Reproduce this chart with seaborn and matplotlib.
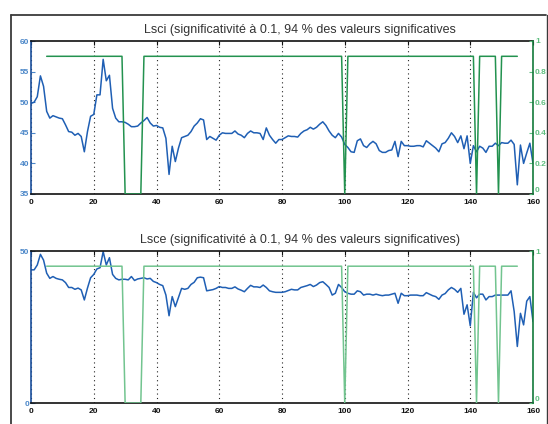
import numpy as np
import pandas as pd
import matplotlib
matplotlib.use("Agg")
import matplotlib.pyplot as plt
from matplotlib.lines import Line2D
import seaborn as sns

# ---------------- data ----------------
x_blue = list(range(0, 161))
lsci = [49.8, 50.0, 50.9, 54.3, 52.6, 48.5, 47.4, 47.8, 47.6, 47.4,
        47.3, 46.3, 45.2, 45.1, 44.6, 44.9, 44.4, 41.9, 45.2, 47.7,
        48.0, 51.2, 51.2, 57.0, 53.5, 54.4, 49.0, 47.4, 46.8, 46.8,
        46.7, 46.4, 46.0, 46.0, 46.1, 46.6, 47.0, 47.5, 46.6, 46.1,
        46.2, 45.9, 45.8, 44.1, 38.2, 42.8, 40.3, 42.5, 44.2, 44.4,
        44.6, 45.2, 46.1, 46.6, 47.3, 47.1, 43.9, 44.4, 44.1, 43.8,
        44.6, 45.0, 44.9, 44.9, 44.9, 45.3, 44.8, 44.6, 44.2, 44.9,
        45.3, 45.0, 45.0, 44.9, 43.9, 45.8, 44.6, 43.9, 43.3, 43.9,
        43.9, 44.2, 44.5, 44.4, 44.4, 44.3, 44.9, 45.3, 45.5, 45.9,
        45.6, 45.9, 46.4, 46.8, 46.2, 45.3, 44.6, 44.2, 44.9, 44.3,
        43.1, 42.6, 41.9, 41.8, 43.7, 44.0, 42.9, 42.6, 43.2, 43.6,
        43.2, 42.1, 41.8, 41.8, 42.1, 42.2, 43.6, 41.1, 43.6, 42.9,
        42.9, 42.8, 42.8, 42.9, 42.9, 42.7, 43.7, 43.3, 42.9, 42.5,
        41.9, 43.2, 43.4, 44.1, 45.0, 44.4, 43.4, 44.5, 42.4, 44.5,
        40.0, 42.9, 41.9, 42.8, 42.5, 41.8, 42.8, 42.8, 43.3, 42.9,
        43.4, 43.3, 43.3, 43.8, 43.1, 36.5, 43.0, 40.0, 41.7, 43.3,
        40.0]
lsce = [43.8, 43.8, 45.4, 48.9, 47.0, 42.7, 41.0, 41.6, 41.0, 40.7,
        40.5, 39.6, 38.0, 38.0, 37.4, 37.8, 37.2, 33.9, 37.8, 41.2,
        42.3, 44.1, 44.5, 49.8, 45.4, 47.8, 42.3, 41.0, 40.5, 40.7,
        40.7, 40.5, 41.6, 40.3, 40.8, 41.0, 41.2, 40.8, 41.0, 40.0,
        39.6, 39.0, 38.6, 35.5, 28.7, 35.0, 31.7, 34.7, 37.7, 37.4,
        37.7, 39.0, 39.7, 41.2, 41.4, 41.2, 36.9, 37.1, 37.3, 37.7,
        38.3, 38.0, 38.0, 37.7, 37.7, 38.2, 37.5, 37.1, 36.6, 37.7,
        38.7, 38.2, 38.2, 38.0, 38.8, 38.0, 36.9, 36.6, 36.4, 36.4,
        36.4, 36.6, 37.0, 37.4, 37.2, 37.2, 38.0, 38.3, 38.6, 39.0,
        38.3, 38.8, 39.6, 39.9, 39.0, 38.0, 35.5, 36.1, 39.0, 38.0,
        36.6, 36.1, 35.8, 35.8, 36.9, 36.6, 35.5, 35.8, 35.8, 35.5,
        35.8, 35.5, 35.3, 35.5, 35.5, 35.8, 36.1, 32.8, 36.1, 35.3,
        35.3, 35.5, 35.5, 35.5, 35.3, 35.3, 36.3, 35.8, 35.3, 35.0,
        34.1, 35.5, 36.0, 37.2, 38.0, 37.4, 36.4, 37.7, 29.2, 32.3,
        25.4, 36.4, 34.6, 35.8, 35.8, 33.9, 35.0, 35.0, 35.5, 35.5,
        35.5, 35.5, 35.5, 36.9, 30.1, 18.6, 29.5, 25.7, 33.5, 35.0,
        26.8]
x_sig = list(range(5, 156))
zero_at = [30, 31, 32, 33, 34, 35, 100, 142, 149]
sig = [0.0 if v in zero_at else 0.9 for v in x_sig]

titles = ["Lsci (significativité à 0.1, 94 % des valeurs significatives",
          "Lsce (significativité à 0.1, 94 % des valeurs significatives)"]
left_lims = [(35, 60), (0, 50)]
left_ticks = [[35, 40, 45, 50, 55, 60], [0, 50]]
right_ticks = [[0, 0.2, 0.4, 0.6, 0.8, 1], [0, 1]]
right_labels = [["0", "0.2", "0.4", "0.6", "0.8", "1"], ["0", "1"]]
xticks = [0, 20, 40, 60, 80, 100, 120, 140, 160]

# ---------------- style ----------------
sns.set_style("white")
plt.rcParams['font.family'] = ['Liberation Sans', 'DejaVu Sans']

W, H = 548, 424
fig = plt.figure(figsize=(W / 100, H / 100), dpi=100)

BLUE = "#1f5fb4"
BLUE_LBL = "#4a86c8"
BLUE_SPINE = "#1a4f9c"
GREEN_LINES = ["#23924f", "#72c48f"]
GREEN_LBL = "#5fbf80"
GREEN_SPINE = "#137a3b"

axes_px = [(31, 41, 533, 194), (31, 251, 533, 403)]
series = [lsci, lsce]

for i in range(2):
    l, t, r, b = axes_px[i]
    ax = fig.add_axes([l / W, 1 - b / H, (r - l) / W, (b - t) / H])
    dfb = pd.DataFrame({"x": x_blue, "y": series[i]})
    sns.lineplot(data=dfb, x="x", y="y", ax=ax, color=BLUE, lw=1.1)
    ax.set_xlim(0, 160)
    ax.set_ylim(*left_lims[i])
    ax.set_xticks(xticks)
    ax.set_yticks(left_ticks[i])
    ax.set_xlabel("")
    ax.set_ylabel("")
    ax.xaxis.grid(True, linestyle=(0, (1, 3)), color="#222222", lw=0.8)
    ax.yaxis.grid(False)
    ax.tick_params(axis="x", direction="in", length=3, width=0.8, top=True,
                   labelsize=6, pad=3.5, colors="#111111")
    ax.tick_params(axis="y", direction="in", length=3, width=0.8,
                   labelsize=6, pad=1.5, colors=BLUE_LBL)
    for lab in ax.get_xticklabels() + ax.get_yticklabels():
        lab.set_fontweight("bold")
    for s in ["top", "bottom"]:
        ax.spines[s].set_color("#111111")
        ax.spines[s].set_linewidth(1.2)
    ax.spines["left"].set_color(BLUE_SPINE)
    ax.spines["left"].set_linewidth(1.2)
    ax.spines["right"].set_visible(False)

    ax2 = ax.twinx()
    dfg = pd.DataFrame({"x": x_sig, "y": sig})
    sns.lineplot(data=dfg, x="x", y="y", ax=ax2, color=GREEN_LINES[i], lw=1.1)
    ax2.set_ylim(0, 1)
    ax2.set_xlim(0, 160)
    ax2.set_yticks(right_ticks[i])
    ax2.set_yticklabels(right_labels[i])
    ax2.set_ylabel("")
    ax2.grid(False)
    ax2.tick_params(axis="y", direction="in", length=3, width=0.8,
                    labelsize=6, pad=1.5, colors=GREEN_LBL, right=True)
    for lab in ax2.get_yticklabels():
        lab.set_fontweight("bold")
        if lab.get_text() == "0":
            lab.set_verticalalignment("bottom")
    for s in ["top", "bottom", "left"]:
        ax2.spines[s].set_visible(False)
    ax2.spines["right"].set_color(GREEN_SPINE)
    ax2.spines["right"].set_linewidth(1.2)

    ax.text((300 - l) / (r - l), 1.035, titles[i], transform=ax.transAxes,
            ha="center", va="bottom", fontsize=9, color="#333333")

# figure frame
fc = "#3a3a3a"
fig.add_artist(Line2D([11 / W, 11 / W], [0, 1 - 15 / H], transform=fig.transFigure, color=fc, lw=1.3))
fig.add_artist(Line2D([11 / W, 546 / W], [1 - 15 / H, 1 - 15 / H], transform=fig.transFigure, color=fc, lw=1.3))
fig.add_artist(Line2D([546.5 / W, 546.5 / W], [0, 1 - 15 / H], transform=fig.transFigure, color=fc, lw=1.0))

fig.savefig("out.png", dpi=100)
